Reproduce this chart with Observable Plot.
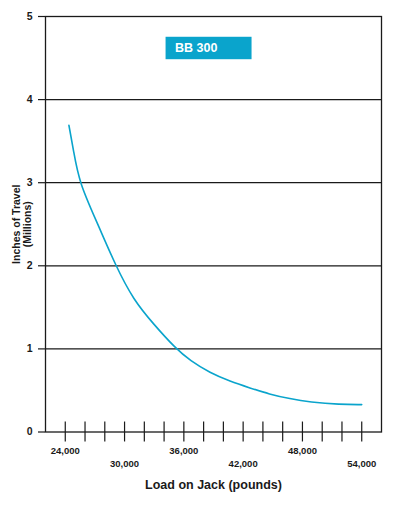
<!DOCTYPE html>
<html>
<head>
<meta charset="utf-8">
<script src="https://cdn.jsdelivr.net/npm/d3@7"></script>
<script src="https://cdn.jsdelivr.net/npm/@observablehq/plot@0.6"></script>
<style>
  html, body { margin: 0; padding: 0; background: #fff; }
  svg { display: block; }
</style>
</head>
<body>
<div id="chart"></div>
<script>
// Data
const loads  = [24370, 24830, 25410, 27230, 29100, 30900, 32920, 35210, 36630, 38650, 40670, 42700, 44650, 46730, 48760, 51790, 54000];
const travel = [3.69, 3.39, 3.00, 2.52, 2.00, 1.59, 1.30, 1.00, 0.86, 0.71, 0.61, 0.53, 0.455, 0.40, 0.36, 0.33, 0.33];

const xTickValues  = [24000, 26000, 28000, 30000, 32000, 34000, 36000, 38000, 40000, 42000, 44000, 46000, 48000, 50000, 52000, 54000];
const xLabelsUpper = [24000, 36000, 48000];
const xLabelsLower = [30000, 42000, 54000];
const yTickValues  = [0, 1, 2, 3, 4, 5];
const gridValues   = [1, 2, 3, 4];
const seriesName   = ["BB 300"];
const xTitle = "Load on Jack (pounds)";
const yTitle = "Inches of Travel\n(Millions)";

const data = loads.map((x, i) => ({x, y: travel[i]}));
const font = "'Liberation Sans', Arial, Helvetica, sans-serif";
const ink = "#1a1a1a";
const blue = "#0aa4cc";

const chart = Plot.plot({
  width: 396,
  height: 517,
  marginLeft: 45,
  marginRight: 15,
  marginTop: 16,
  marginBottom: 85.5,
  style: {fontFamily: font, fontWeight: "bold", background: "#fff"},
  x: {domain: [22000, 56000]},
  y: {domain: [0, 5]},
  marks: [
    Plot.ruleY(gridValues, {stroke: ink, strokeWidth: 1.2}),
    Plot.frame({stroke: ink, strokeWidth: 1.3}),
    Plot.ruleX(xTickValues, {x: d => d, y1: -0.12, y2: 0.12, stroke: ink, strokeWidth: 1.2}),
    Plot.axisY(yTickValues, {tickSize: 7, tickPadding: 6, fontSize: 10.5, fontWeight: "bold", tickFormat: d => d, stroke: ink, strokeWidth: 1.2, label: null, fill: ink}),
    Plot.axisX({ticks: [], label: null}),
    Plot.text(xLabelsUpper, {x: d => d, y: 0, text: d => d3.format(",")(d), dy: 18.5, fontSize: 9.5, fill: ink}),
    Plot.text(xLabelsLower, {x: d => d, y: 0, text: d => d3.format(",")(d), dy: 31.5, fontSize: 9.5, fill: ink}),
    Plot.text([xTitle], {frameAnchor: "bottom", dy: 56.5, fontSize: 12.5, fill: ink}),
    Plot.text([yTitle], {frameAnchor: "left", textAnchor: "middle", rotate: -90, dx: -23.5, fontSize: 10.5, lineHeight: 1.05, fill: ink}),
    Plot.line(data, {x: "x", y: "y", curve: "basis", stroke: blue, strokeWidth: 1.6}),
    Plot.rect(seriesName, {x1: () => 34200, x2: () => 42900, y1: () => 4.48, y2: () => 4.75, fill: blue}),
    Plot.text(seriesName, {x: () => 34200, y: () => 4.615, dx: 9, text: d => d, textAnchor: "start", fill: "#fff", fontSize: 12.5})
  ]
});

document.getElementById("chart").appendChild(chart);
</script>
</body>
</html>
